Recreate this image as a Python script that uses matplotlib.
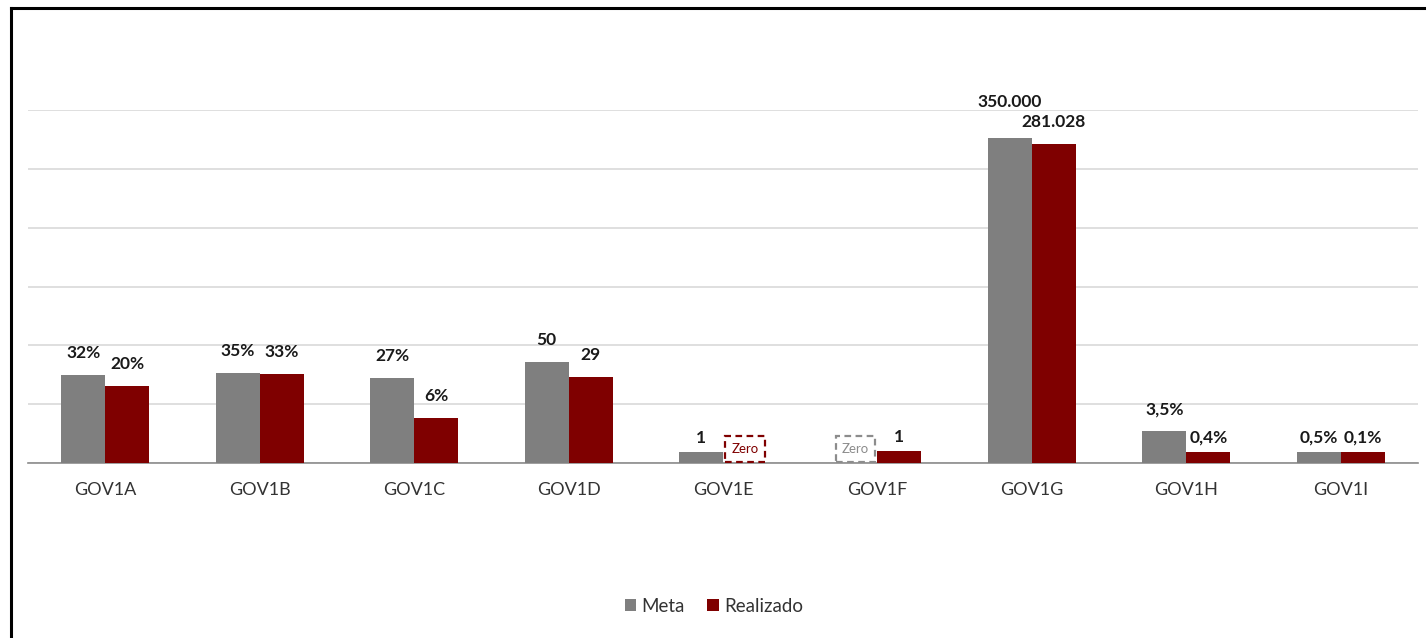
import numpy as np
import matplotlib.pyplot as plt
from matplotlib.patches import Rectangle
from matplotlib.lines import Line2D

plt.rcParams['font.family'] = ['Lato', 'DejaVu Sans']

# Data (bar heights are display heights, in gridline units)
categories = ['GOV1A', 'GOV1B', 'GOV1C', 'GOV1D', 'GOV1E', 'GOV1F', 'GOV1G', 'GOV1H', 'GOV1I']
meta_height = [1.49, 1.53, 1.44, 1.71, 0.19, 0.0, 5.53, 0.54, 0.19]
real_height = [1.31, 1.51, 0.76, 1.46, 0.0, 0.20, 5.42, 0.19, 0.19]
meta_labels = ['32%', '35%', '27%', '50', '1', None, '350.000', '3,5%', '0,5%']
real_labels = ['20%', '33%', '6%', '29', None, '1', '281.028', '0,4%', '0,1%']

meta_color = '#7f7f7f'
real_color = '#7f0000'

fig = plt.figure(figsize=(14.28, 6.38), dpi=100)
ax = fig.add_axes([28 / 1428, 1 - 463 / 638, 1390 / 1428, 353 / 638])

x = np.arange(len(categories))
w = 0.285
ax.bar(x - w / 2, meta_height, w, color=meta_color, label='Meta', zorder=3)
ax.bar(x + w / 2, real_height, w, color=real_color, label='Realizado', zorder=3)

# data labels
for i in range(len(categories)):
    if meta_labels[i]:
        off = 14
        if categories[i] == 'GOV1G':
            off = 28
        elif categories[i] in ('GOV1E', 'GOV1I'):
            off = 6
        ax.annotate(meta_labels[i], (x[i] - w / 2, meta_height[i]), xytext=(0, off),
                    textcoords='offset pixels', ha='center', va='bottom',
                    fontsize=12.5, fontweight='bold', color='#1a1a1a')
    if real_labels[i]:
        off = 14
        if categories[i] in ('GOV1F', 'GOV1H', 'GOV1I'):
            off = 6
        ax.annotate(real_labels[i], (x[i] + w / 2, real_height[i]), xytext=(0, off),
                    textcoords='offset pixels', ha='center', va='bottom',
                    fontsize=12.5, fontweight='bold', color='#1a1a1a')

# "Zero" boxes for empty values
for i in range(len(categories)):
    for h, dx, col in ((meta_height[i], -w / 2, '#8c8c8c'), (real_height[i], w / 2, real_color)):
        if h == 0:
            bw = w * 0.9
            ax.add_patch(Rectangle((x[i] + dx - bw / 2, 0.02), bw, 0.44, fill=False,
                                   edgecolor=col, linestyle=(0, (3, 2)), linewidth=1.6, zorder=4))
            ax.text(x[i] + dx, 0.24, 'Zero', ha='center', va='center', fontsize=9.5, color=col)

ax.set_xlim(-0.5, len(categories) - 0.5)
ax.set_ylim(0, 6)
ax.set_yticks(np.arange(0, 7, 1))
ax.yaxis.grid(True, color='#d9d9d9', linewidth=1.2, zorder=0)
ax.set_yticklabels([])
ax.tick_params(axis='y', length=0)
ax.tick_params(axis='x', length=0, pad=14, labelsize=13, labelcolor='#333333')
ax.set_xticks(x)
ax.set_xticklabels(categories)
for s in ['top', 'right', 'left']:
    ax.spines[s].set_visible(False)
ax.spines['bottom'].set_color('#8c8c8c')
ax.spines['bottom'].set_linewidth(1.2)

fig.legend(loc='center', bbox_to_anchor=(0.5, 1 - 606 / 638), ncol=2, frameon=False,
           fontsize=13.5, handlelength=0.6, handleheight=0.6, handletextpad=0.3,
           columnspacing=1.2, labelcolor='#333333')

# outer frame (left and top edges)
fig.add_artist(Line2D([11.5 / 1428, 11.5 / 1428], [0, 1 - 7.5 / 638], color='black', linewidth=2.2,
                      transform=fig.transFigure))
fig.add_artist(Line2D([11.5 / 1428, 1424 / 1428], [1 - 8 / 638, 1 - 8 / 638], color='black', linewidth=2.2,
                      transform=fig.transFigure))

fig.savefig('out.png', dpi=100)
